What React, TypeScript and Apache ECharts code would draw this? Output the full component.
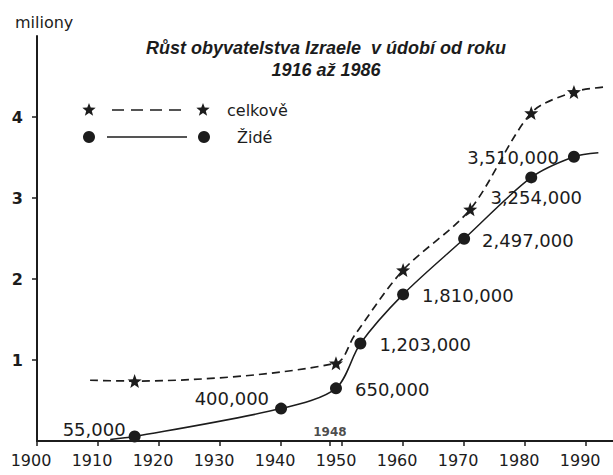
import React, { useEffect, useRef } from "react";
import * as echarts from "echarts";

// ---- data (millions of inhabitants) ----
const jewYears = [1916, 1940, 1949, 1953, 1960, 1970, 1981, 1988];
const jewValues = [0.055, 0.4, 0.65, 1.203, 1.81, 2.497, 3.254, 3.51];
const totalYears = [1916, 1949, 1960, 1971, 1981, 1988];
const totalValues = [0.74, 0.96, 2.11, 2.86, 4.05, 4.31];
// where the drawn curves begin and end beyond the first/last marker,
// and one unmarked point read off the steep part of the dashed curve
const jewLineStart = [1912, 0.02];
const jewLineEnd = [1992, 3.56];
const totalLineStart = [1908.7, 0.75];
const totalLineEnd = [1993, 4.37];
const totalCurvePoint = [1952, 1.3];
const xTickYears = [1900, 1910, 1920, 1930, 1940, 1950, 1960, 1970, 1980, 1990];
const yTickValues = [1, 2, 3, 4];
const markedYear = 1948;

const titleLines = ["Růst obyvatelstva Izraele  v údobí od roku", "1916 až 1986"];
const yUnit = "miliony";
const seriesNames = ["celkově", "Židé"];

const INK = "#1c1c1c";
const STAR =
  "path://M0,-1L0.25,-0.33L0.951,-0.309L0.4,0.13L0.588,0.809L0,0.42L-0.588,0.809L-0.4,0.13L-0.951,-0.309L-0.25,-0.33Z";

const jewLabelPlace: any[] = [
  { position: "left", distance: 3, offset: [0, -7] },
  { position: "left", distance: 6, offset: [0, -10] },
  { position: "right", distance: 13, offset: [0, 1] },
  { position: "right", distance: 13, offset: [0, 1] },
  { position: "right", distance: 13, offset: [0, 1] },
  { position: "right", distance: 12, offset: [0, 2] },
  { position: "bottom", distance: 5, offset: [5, 0] },
  { position: "left", distance: 9, offset: [0, 1] },
];

function fmt(v: number) {
  return Math.round(v * 1e6).toLocaleString("en-US");
}

function starPoints(cx: number, cy: number, r: number) {
  const pts: number[][] = [];
  for (let i = 0; i < 10; i++) {
    const a = -Math.PI / 2 + (i * Math.PI) / 5;
    const rr = i % 2 === 0 ? r : r * 0.42;
    pts.push([cx + rr * Math.cos(a), cy + rr * Math.sin(a)]);
  }
  return pts;
}

export default function App() {
  const ref = useRef<HTMLDivElement>(null);
  useEffect(() => {
    if (!ref.current) return;
    const chart = echarts.init(ref.current, null, { renderer: "svg" });

    const labelFont = { fontFamily: "DejaVu Sans", fontSize: 18, color: INK };

    const jewData: any[] = [
      { value: jewLineStart, symbol: "none", label: { show: false } },
      ...jewYears.map((y, i) => ({
        value: [y, jewValues[i]],
        label: {
          show: true,
          formatter: fmt(jewValues[i]),
          ...labelFont,
          ...jewLabelPlace[i],
        },
      })),
      { value: jewLineEnd, symbol: "none", label: { show: false } },
    ];
    const totalPoints: any[] = totalYears.map((y, i) => ({ value: [y, totalValues[i]] }));
    totalPoints.push({ value: totalCurvePoint, symbol: "none" });
    totalPoints.sort((a, b) => a.value[0] - b.value[0]);
    const totalData: any[] = [
      { value: totalLineStart, symbol: "none" },
      ...totalPoints,
      { value: totalLineEnd, symbol: "none" },
    ];

    const legendY1 = 110;
    const legendY2 = 137;

    chart.setOption({
      animation: false,
      backgroundColor: "#ffffff",
      grid: { left: 37, right: 0, top: 36, bottom: 34, containLabel: false },
      title: {
        text: titleLines.join("\n"),
        left: 321,
        top: 32,
        textAlign: "center",
        textStyle: {
          fontFamily: "Liberation Sans",
          fontStyle: "italic",
          fontWeight: "bold",
          fontSize: 18,
          lineHeight: 22,
          color: INK,
        },
      },
      xAxis: {
        type: "value",
        min: 1900,
        max: 1994.4,
        splitLine: { show: false },
        axisLine: { show: true, onZero: false, lineStyle: { color: INK, width: 2 } },
        axisTick: {
          show: true,
          customValues: [...xTickYears, markedYear],
          length: 5,
          lineStyle: { color: INK, width: 1.5 },
        },
        axisLabel: {
          customValues: xTickYears,
          margin: 11,
          fontFamily: "DejaVu Sans",
          fontSize: 16,
          color: INK,
          padding: [0, 12, 0, 0],
          formatter: (v: number) => String(Math.round(v)),
        },
      },
      yAxis: {
        type: "value",
        min: 0,
        max: 5,
        interval: 1,
        splitLine: { show: false },
        axisLine: { show: true, lineStyle: { color: INK, width: 2 } },
        axisTick: {
          show: true,
          customValues: yTickValues,
          length: 5,
          lineStyle: { color: INK, width: 1.5 },
        },
        axisLabel: {
          customValues: yTickValues,
          margin: 14,
          fontFamily: "DejaVu Sans",
          fontWeight: "bold",
          fontSize: 16,
          color: INK,
        },
      },
      graphic: [
        {
          type: "text",
          left: 15,
          top: 14,
          style: { text: yUnit, font: '16px "DejaVu Sans"', fill: INK },
        },
        {
          type: "polygon",
          shape: { points: starPoints(89, legendY1, 7) },
          style: { fill: INK },
        },
        {
          type: "line",
          shape: { x1: 112, y1: legendY1, x2: 185, y2: legendY1 },
          style: { stroke: INK, lineWidth: 1.6, lineDash: [12, 7] },
        },
        {
          type: "polygon",
          shape: { points: starPoints(203, legendY1, 7) },
          style: { fill: INK },
        },
        {
          type: "text",
          x: 227,
          y: legendY1,
          style: {
            text: seriesNames[0],
            font: '16px "DejaVu Sans"',
            fill: INK,
            textVerticalAlign: "middle",
          },
        },
        { type: "circle", shape: { cx: 89, cy: legendY2, r: 6 }, style: { fill: INK } },
        {
          type: "line",
          shape: { x1: 107, y1: legendY2, x2: 187, y2: legendY2 },
          style: { stroke: INK, lineWidth: 1.4 },
        },
        { type: "circle", shape: { cx: 204, cy: legendY2, r: 6 }, style: { fill: INK } },
        {
          type: "text",
          x: 237,
          y: legendY2,
          style: {
            text: seriesNames[1],
            font: '16px "DejaVu Sans"',
            fill: INK,
            textVerticalAlign: "middle",
          },
        },
      ],
      series: [
        {
          name: seriesNames[0],
          type: "line",
          data: totalData,
          smooth: 0.3,
          symbol: STAR,
          symbolSize: 14,
          itemStyle: { color: INK },
          lineStyle: { color: INK, width: 1.7, type: [8, 5] },
          z: 3,
        },
        {
          name: seriesNames[1],
          type: "line",
          data: jewData,
          smooth: 0.3,
          symbol: "circle",
          symbolSize: 12,
          itemStyle: { color: INK },
          lineStyle: { color: INK, width: 1.5 },
          z: 4,
        },
        {
          name: "marked",
          type: "scatter",
          data: [[markedYear, 0]],
          symbolSize: 0,
          silent: true,
          itemStyle: { color: INK },
          label: {
            show: true,
            position: "top",
            distance: 3,
            formatter: String(markedYear),
            fontFamily: "DejaVu Sans",
            fontWeight: "bold",
            fontSize: 12,
            color: INK,
          },
        },
      ],
    });
    return () => chart.dispose();
  }, []);

  return <div ref={ref} style={{ width: 613, height: 475, position: "absolute", left: 0, top: 0 }} />;
}
